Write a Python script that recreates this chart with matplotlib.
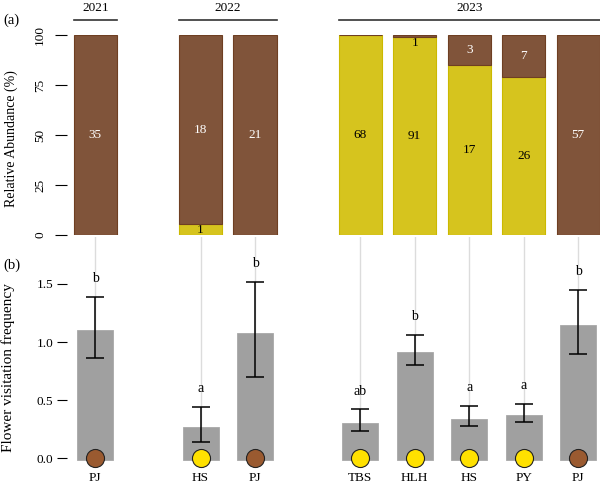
import matplotlib
matplotlib.use('Agg')
import matplotlib.pyplot as plt
import matplotlib.transforms as mtransforms

plt.rcParams['font.family'] = ['Liberation Serif', 'DejaVu Serif']

# data
years = ['2021', '2022', '2023']
year_of_bar = ['2021', '2022', '2022', '2023', '2023', '2023', '2023', '2023']
plants = ['PJ', 'HS', 'PJ', 'TBS', 'HLH', 'HS', 'PY', 'PJ']
plant_type = ['brown', 'yellow', 'brown', 'yellow', 'yellow', 'yellow', 'yellow', 'brown']
brown_counts = [35, 18, 21, 0, 1, 3, 7, 57]
yellow_counts = [0, 1, 0, 68, 91, 17, 26, 0]

visit_mean = [1.12, 0.29, 1.10, 0.32, 0.93, 0.36, 0.39, 1.17]
visit_lo = [0.86, 0.14, 0.70, 0.23, 0.80, 0.28, 0.31, 0.90]
visit_hi = [1.39, 0.44, 1.52, 0.42, 1.06, 0.45, 0.47, 1.45]
letters = ['b', 'a', 'b', 'ab', 'b', 'a', 'a', 'b']

BROWN = '#80543a'
BROWN_EDGE = '#6e3f22'
YELLOW = '#d6c41e'
YELLOW_EDGE = '#cbb900'
GREY = '#a0a0a0'
DOT = {'brown': '#9a5a30', 'yellow': '#ffe100'}

# bar positions: unit spacing inside a year, wider gap between years
pos = []
x = 0.0
for i, yr in enumerate(year_of_bar):
    if i > 0:
        x += 1.0 if yr == year_of_bar[i - 1] else 1.93
    pos.append(x)

fig = plt.figure(figsize=(6, 4.92), dpi=100)
W, H = 600, 492
ax_a = fig.add_axes([67 / W, (H - 235) / H, (600 - 67) / W, 200 / H])
ax_b = fig.add_axes([67 / W, (H - 462) / H, (600 - 67) / W, (462 - 237) / H])

xlim = (pos[0] - 0.52, pos[-1] + 0.40)
bw_top = 0.79
bw_bot = 0.66

# (a) relative abundance
totals = [b + y for b, y in zip(brown_counts, yellow_counts)]
yel_pct = [100 * y / t for y, t in zip(yellow_counts, totals)]
brn_pct = [100 * b / t for b, t in zip(brown_counts, totals)]
ax_a.bar(pos, yel_pct, width=bw_top, color=YELLOW, edgecolor=YELLOW_EDGE, linewidth=0.8)
ax_a.bar(pos, brn_pct, width=bw_top, bottom=yel_pct, color=BROWN,
         edgecolor=BROWN_EDGE, linewidth=0.8)
for p, yc, bc, yp, bp in zip(pos, yellow_counts, brown_counts, yel_pct, brn_pct):
    if yc > 0:
        ax_a.text(p, yp / 2, str(yc), ha='center', va='center', fontsize=9.5, color='black')
    if bc > 0:
        yy = yp + bp / 2
        col = 'white'
        if yy > 97:
            yy = 96
            col = 'black'
        ax_a.text(p, yy, str(bc), ha='center', va='center', fontsize=9.5, color=col)

ax_a.set_xlim(*xlim)
ax_a.set_ylim(0, 100)
ax_a.set_yticks([0, 25, 50, 75, 100])
ax_a.set_yticklabels(['0', '25', '50', '75', '100'], rotation=90, va='center')
ax_a.tick_params(axis='y', length=9, width=0.8, labelsize=9.5, pad=6)
ax_a.set_xticks([])
for s in ax_a.spines.values():
    s.set_visible(False)
ax_a.set_ylabel('Relative Abundance (%)', fontsize=10)
ax_a.yaxis.set_label_coords(-0.092, 0.48)

# year headers
trans = mtransforms.blended_transform_factory(ax_a.transData, ax_a.transAxes)
for yr in years:
    idx = [i for i, v in enumerate(year_of_bar) if v == yr]
    x0 = pos[idx[0]] - bw_top / 2
    x1 = pos[idx[-1]] + bw_top / 2
    ax_a.plot([x0, x1], [1.075, 1.075], color='#333333', lw=1.2, transform=trans, clip_on=False)
    ax_a.text((x0 + x1) / 2, 1.135, yr, ha='center', va='center', fontsize=9.5, transform=trans)

fig.text(3 / W, 1 - 20 / H, '(a)', fontsize=10.5, ha='left', va='center')
fig.text(3 / W, 1 - 265 / H, '(b)', fontsize=10.5, ha='left', va='center')

# (b) flower visitation frequency
for p in pos:
    ax_b.axvline(p, color='#dcdcdc', lw=1.0, zorder=0)
ax_b.bar(pos, visit_mean, width=bw_bot, bottom=-0.02, color=GREY, edgecolor='#a8a8a8',
         linewidth=0.6, zorder=2)
err_low = [m - lo for m, lo in zip(visit_mean, visit_lo)]
err_high = [hi - m for m, hi in zip(visit_mean, visit_hi)]
ax_b.errorbar(pos, visit_mean, yerr=[err_low, err_high], fmt='none', ecolor='black',
              elinewidth=1.1, capsize=6.5, capthick=1.1, zorder=3)
for p, hi, lt in zip(pos, visit_hi, letters):
    ax_b.text(p, hi + 0.1, lt, ha='center', va='bottom', fontsize=10, zorder=4)
for p, t in zip(pos, plant_type):
    ax_b.plot(p, 0, 'o', ms=13, mfc=DOT[t], mec='#222222', mew=0.8, zorder=5, clip_on=False)

ax_b.set_xlim(*xlim)
ax_b.set_ylim(-0.034, 1.905)
ax_b.set_yticks([0.0, 0.5, 1.0, 1.5])
ax_b.set_yticklabels(['0.0', '0.5', '1.0', '1.5'])
ax_b.tick_params(axis='y', length=7, width=0.8, labelsize=9.5, pad=3)
ax_b.set_xticks(pos)
ax_b.set_xticklabels(plants)
ax_b.tick_params(axis='x', length=0, labelsize=9.5, pad=7)
for s in ax_b.spines.values():
    s.set_visible(False)
ax_b.set_ylabel('Flower visitation frequency', fontsize=11)
ax_b.yaxis.set_label_coords(-0.097, 0.42)

fig.savefig('out.png', dpi=100)
